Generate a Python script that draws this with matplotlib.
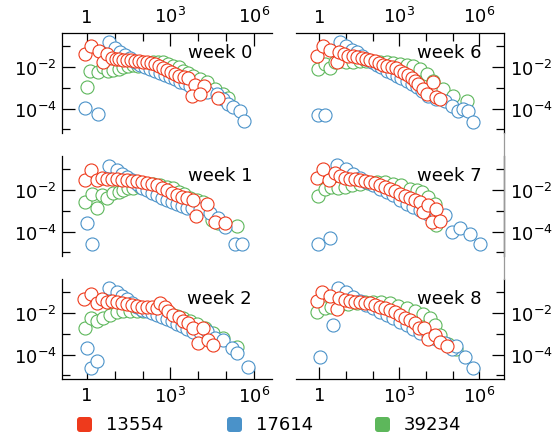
import numpy as np
import matplotlib
matplotlib.use("Agg")
import matplotlib.pyplot as plt
from matplotlib.patches import FancyBboxPatch
from matplotlib.lines import Line2D

plt.rcParams['font.family'] = ['DejaVu Sans']
plt.rcParams['mathtext.fontset'] = 'dejavusans'

# ---------------- data (log10 of x and log10 of y) ----------------
series_names = ["13554", "17614", "39234"]
series_colors = ["#EE3A1C", "#4A92C9", "#5DB75B"]
week_labels = ["week 0", "week 6", "week 1", "week 7", "week 2", "week 8"]

# week 0
w0_red_lx = [-0.06, 0.14, 0.45, 0.60, 0.74, 0.90, 1.04, 1.17, 1.31, 1.46, 1.60, 1.74, 1.89, 2.03, 2.17, 2.32, 2.46, 2.60, 2.75, 2.89, 3.03, 3.18, 3.32, 3.49, 3.63, 3.88, 4.21, 3.78, 4.06, 4.72]
w0_red_ly = [-1.37, -1.00, -1.21, -1.74, -1.37, -1.58, -1.61, -1.61, -1.64, -1.66, -1.67, -1.69, -1.71, -1.74, -1.77, -1.80, -1.87, -1.96, -2.04, -2.12, -2.22, -2.32, -2.41, -2.48, -2.51, -2.86, -2.93, -3.38, -3.30, -3.47]
w0_blue_lx = [-0.06, 0.42, 0.81, 1.02, 1.19, 1.37, 1.55, 1.73, 1.91, 2.09, 2.27, 2.45, 2.63, 2.81, 2.99, 3.17, 3.35, 3.52, 3.70, 3.94, 4.30, 4.66, 4.90, 5.08, 5.26, 5.50, 5.64]
w0_blue_ly = [-3.99, -4.26, -0.81, -1.10, -1.26, -1.42, -1.58, -1.77, -1.90, -2.01, -2.09, -2.17, -2.29, -2.38, -2.49, -2.57, -2.70, -2.76, -2.92, -3.06, -3.18, -3.30, -3.54, -3.78, -3.94, -4.10, -4.58]
w0_green_lx = [0.00, 0.12, 0.42, 0.60, 0.78, 0.96, 1.14, 1.31, 1.49, 1.67, 1.85, 2.03, 2.21, 2.39, 2.57, 2.75, 2.93, 3.11, 3.29, 3.46, 3.64, 3.82, 4.06, 4.30, 4.60, 4.90, 5.08]
w0_green_ly = [-2.98, -2.17, -2.22, -2.01, -2.17, -2.12, -2.09, -2.01, -1.93, -1.90, -1.93, -1.85, -1.80, -1.77, -1.74, -1.77, -1.85, -1.93, -2.01, -2.17, -2.29, -2.41, -2.57, -2.73, -3.06, -3.30, -3.51]

# week 6
w6_red_lx = [-0.10, 0.15, 0.42, 0.65, 0.75, 0.92, 1.09, 1.25, 1.42, 1.59, 1.75, 1.92, 2.08, 2.25, 2.40, 2.55, 2.71, 2.87, 3.02, 3.17, 3.33, 3.46, 3.58, 3.71, 3.90, 4.02, 4.27, 4.39, 4.52]
w6_red_ly = [-1.45, -0.97, -1.16, -1.77, -1.26, -1.37, -1.45, -1.48, -1.53, -1.58, -1.61, -1.66, -1.72, -1.80, -1.88, -1.93, -1.98, -2.06, -2.17, -2.29, -2.38, -2.54, -2.65, -2.82, -3.06, -3.30, -2.73, -3.46, -3.54]
w6_blue_lx = [-0.04, 0.21, 0.77, 1.02, 1.21, 1.40, 1.59, 1.77, 1.96, 2.15, 2.33, 2.52, 2.71, 2.90, 3.08, 3.27, 3.46, 3.65, 3.83, 4.08, 4.39, 4.71, 4.96, 5.21, 5.39, 5.58, 5.77]
w6_blue_ly = [-4.31, -4.31, -0.78, -0.97, -1.16, -1.29, -1.48, -1.61, -1.77, -1.90, -2.01, -2.17, -2.29, -2.41, -2.54, -2.65, -2.82, -2.98, -3.14, -3.38, -3.54, -3.62, -3.86, -4.10, -4.02, -4.10, -4.63]
w6_green_lx = [-0.04, 0.21, 0.40, 0.59, 0.77, 1.02, 1.27, 1.52, 1.77, 2.02, 2.27, 2.52, 2.77, 3.02, 3.27, 3.52, 3.77, 4.02, 4.27, 4.64, 5.02, 5.52]
w6_green_ly = [-2.09, -1.85, -2.06, -1.77, -1.69, -1.77, -1.74, -1.69, -1.69, -1.74, -1.77, -1.77, -1.80, -1.85, -1.90, -1.93, -2.09, -2.33, -2.65, -3.06, -3.38, -3.62]

# week 1
w1_red_lx = [-0.06, 0.16, 0.38, 0.54, 0.72, 0.90, 1.08, 1.25, 1.43, 1.61, 1.79, 1.97, 2.15, 2.33, 2.51, 2.69, 2.87, 3.05, 3.23, 3.41, 3.58, 3.80, 3.92, 4.30, 4.60, 4.96]
w1_red_ly = [-1.53, -1.02, -1.53, -1.41, -1.45, -1.48, -1.48, -1.49, -1.51, -1.54, -1.57, -1.61, -1.64, -1.69, -1.76, -1.88, -2.00, -2.13, -2.24, -2.32, -2.37, -2.48, -3.23, -2.69, -3.52, -3.60]
w1_blue_lx = [0.00, 0.18, 0.81, 1.08, 1.25, 1.43, 1.61, 1.79, 1.97, 2.15, 2.33, 2.51, 2.69, 2.87, 3.05, 3.23, 3.41, 3.58, 3.76, 4.06, 4.42, 4.72, 4.96, 5.32, 5.56]
w1_blue_ly = [-3.60, -4.60, -0.84, -1.05, -1.21, -1.37, -1.53, -1.73, -1.89, -2.00, -2.12, -2.24, -2.37, -2.48, -2.56, -2.67, -2.77, -2.85, -2.88, -2.91, -3.12, -3.36, -3.76, -4.60, -4.60]
w1_green_lx = [-0.06, 0.18, 0.38, 0.54, 0.72, 0.93, 1.14, 1.31, 1.49, 1.67, 1.91, 2.15, 2.39, 2.63, 2.87, 3.08, 3.29, 3.49, 3.70, 3.94, 4.18, 4.48, 4.72, 5.38]
w1_green_ly = [-2.56, -2.21, -2.88, -2.24, -2.40, -2.12, -2.08, -2.00, -1.92, -1.89, -1.84, -1.76, -1.73, -1.76, -1.84, -1.92, -2.08, -2.21, -2.37, -2.48, -2.59, -3.44, -3.60, -3.71]

# week 7
w7_red_lx = [-0.07, 0.15, 0.37, 0.59, 0.77, 0.96, 1.15, 1.34, 1.52, 1.71, 1.90, 2.08, 2.27, 2.46, 2.65, 2.83, 3.02, 3.21, 3.40, 3.58, 3.77, 3.90, 4.08, 4.21, 4.39, 4.52]
w7_red_ly = [-1.42, -1.00, -1.53, -1.16, -1.32, -1.42, -1.45, -1.48, -1.53, -1.56, -1.61, -1.66, -1.74, -1.85, -1.96, -2.06, -2.17, -2.28, -2.38, -2.49, -2.57, -3.05, -2.73, -3.53, -2.89, -3.50]
w7_blue_lx = [-0.04, 0.40, 0.65, 1.02, 1.27, 1.52, 1.77, 2.02, 2.27, 2.52, 2.77, 3.02, 3.27, 3.52, 3.77, 4.08, 4.39, 4.71, 4.96, 5.27, 5.64, 6.02]
w7_blue_ly = [-4.62, -4.30, -0.81, -1.00, -1.21, -1.42, -1.61, -1.77, -1.93, -2.09, -2.25, -2.49, -2.65, -2.81, -2.97, -3.13, -3.29, -3.18, -4.01, -3.85, -4.14, -4.62]
w7_green_lx = [-0.04, 0.21, 0.46, 0.71, 0.96, 1.21, 1.52, 1.84, 2.15, 2.46, 2.77, 3.08, 3.40, 3.65, 3.83, 4.08, 4.33, 4.39]
w7_green_ly = [-2.28, -1.93, -1.85, -1.90, -1.85, -1.77, -1.69, -1.64, -1.61, -1.61, -1.69, -1.77, -1.93, -2.01, -2.09, -2.33, -2.65, -3.69]

# week 2
w2_red_lx = [-0.10, 0.14, 0.38, 0.54, 0.72, 0.90, 1.08, 1.25, 1.43, 1.61, 1.79, 1.97, 2.15, 2.33, 2.51, 2.63, 2.81, 2.93, 3.11, 3.29, 3.46, 3.64, 3.82, 4.00, 4.18, 4.36, 4.54]
w2_red_ly = [-1.32, -1.10, -1.53, -1.32, -1.45, -1.41, -1.45, -1.53, -1.57, -1.61, -1.64, -1.69, -1.69, -1.73, -1.76, -1.53, -1.69, -1.92, -2.08, -2.21, -2.37, -2.48, -2.72, -3.44, -2.72, -3.28, -3.55]
w2_blue_lx = [0.00, 0.14, 0.38, 0.81, 1.08, 1.25, 1.43, 1.61, 1.79, 1.97, 2.15, 2.33, 2.51, 2.69, 2.87, 3.05, 3.23, 3.41, 3.58, 3.82, 4.06, 4.30, 4.60, 4.90, 5.20, 5.38, 5.79]
w2_blue_ly = [-3.68, -4.63, -4.31, -0.81, -1.00, -1.16, -1.32, -1.53, -1.69, -1.84, -1.92, -2.00, -2.08, -2.21, -2.27, -2.40, -2.53, -2.64, -2.75, -2.91, -2.91, -2.85, -3.20, -3.28, -3.68, -3.92, -4.60]
w2_green_lx = [-0.06, 0.14, 0.38, 0.60, 0.84, 1.08, 1.31, 1.55, 1.79, 2.03, 2.27, 2.51, 2.75, 2.99, 3.23, 3.46, 3.70, 3.94, 4.24, 4.54, 4.90, 5.38]
w2_green_ly = [-2.72, -2.24, -2.40, -2.24, -2.08, -1.96, -1.92, -1.89, -1.92, -1.89, -1.89, -1.89, -1.92, -2.00, -2.12, -2.24, -2.37, -2.53, -2.72, -2.96, -3.20, -3.65]

# week 8
w8_red_lx = [-0.10, 0.12, 0.40, 0.65, 0.75, 0.96, 1.15, 1.34, 1.52, 1.71, 1.90, 2.08, 2.27, 2.46, 2.65, 2.83, 3.02, 3.21, 3.40, 3.58, 3.75, 3.92, 4.08, 4.33, 4.52, 4.77]
w8_red_ly = [-1.42, -1.00, -1.16, -1.81, -1.26, -1.37, -1.42, -1.45, -1.48, -1.50, -1.53, -1.61, -1.69, -1.77, -1.85, -1.97, -2.10, -2.23, -2.34, -2.50, -2.71, -2.74, -3.23, -3.06, -3.39, -3.58]
w8_blue_lx = [0.02, 0.52, 0.71, 1.02, 1.27, 1.52, 1.77, 2.02, 2.27, 2.52, 2.77, 3.02, 3.27, 3.52, 3.77, 4.08, 4.39, 4.71, 4.96, 5.14, 5.46, 5.77]
w8_blue_ly = [-4.11, -2.58, -0.81, -0.97, -1.21, -1.42, -1.61, -1.77, -1.94, -2.10, -2.26, -2.42, -2.58, -2.77, -2.94, -3.06, -3.23, -3.42, -3.71, -3.58, -4.11, -4.65]
w8_green_lx = [-0.07, 0.21, 0.46, 0.77, 1.09, 1.40, 1.71, 2.02, 2.33, 2.65, 2.96, 3.27, 3.58, 3.90, 4.14, 4.33, 4.52, 4.83, 5.14]
w8_green_ly = [-1.94, -1.74, -1.69, -1.61, -1.58, -1.53, -1.48, -1.45, -1.48, -1.53, -1.65, -1.77, -1.90, -2.02, -2.26, -2.58, -3.06, -3.47, -3.71]

x_major_ticks = [1, 1e3, 1e6]
x_major_labels = ["1", "$10^3$", "$10^6$"]
x_minor_ticks = [10, 100, 1e4, 1e5]
y_major_ticks = [1e-2, 1e-4]
y_major_labels = ["$10^{-2}$", "$10^{-4}$"]
y_minor_ticks = [1e-1, 1e-3, 1e-5]

panels = [
    (w0_red_lx, w0_red_ly, w0_blue_lx, w0_blue_ly, w0_green_lx, w0_green_ly),
    (w6_red_lx, w6_red_ly, w6_blue_lx, w6_blue_ly, w6_green_lx, w6_green_ly),
    (w1_red_lx, w1_red_ly, w1_blue_lx, w1_blue_ly, w1_green_lx, w1_green_ly),
    (w7_red_lx, w7_red_ly, w7_blue_lx, w7_blue_ly, w7_green_lx, w7_green_ly),
    (w2_red_lx, w2_red_ly, w2_blue_lx, w2_blue_ly, w2_green_lx, w2_green_ly),
    (w8_red_lx, w8_red_ly, w8_blue_lx, w8_blue_ly, w8_green_lx, w8_green_ly),
]

# ---------------- layout ----------------
W, H = 558, 435
fig = plt.figure(figsize=(W / 100, H / 100), dpi=100)

col_left = [62.3, 295.7]
col_width = [209.4, 208.6]
row_top = [34.3, 157.3, 280.3]
row_h = 99.7
xlims = [(10 ** -0.875, 10 ** 6.63), (10 ** -0.88, 10 ** 6.93)]
ylim = (10 ** -5.18, 10 ** -0.37)
FS = 13
text_x = [0.906, 0.893]

for idx, pdata in enumerate(panels):
    r, c = divmod(idx, 2)
    ax = fig.add_axes([col_left[c] / W, 1 - (row_top[r] + row_h) / H,
                       col_width[c] / W, row_h / H])
    ax.set_xscale('log')
    ax.set_yscale('log')
    rx, ry, bx, by, gx, gy = pdata
    for (lx, ly, col) in [(gx, gy, series_colors[2]), (bx, by, series_colors[1]),
                          (rx, ry, series_colors[0])]:
        ax.plot(10 ** np.array(lx), 10 ** np.array(ly), 'o', ls='none',
                mfc='white', mec=col, ms=9.4, mew=0.8, clip_on=False)
    ax.set_xlim(*xlims[c])
    ax.set_ylim(*ylim)
    for s in ax.spines.values():
        s.set_visible(False)
        s.set_linewidth(0.9)
    ax.set_xticks(x_major_ticks)
    ax.set_xticks(x_minor_ticks, minor=True)
    ax.set_yticks(y_major_ticks)
    ax.set_yticks(y_minor_ticks, minor=True)
    ax.xaxis.set_minor_formatter(plt.NullFormatter())
    ax.yaxis.set_minor_formatter(plt.NullFormatter())
    if r == 0:
        ax.spines['top'].set_visible(True)
        ax.xaxis.set_ticks_position('top')
        ax.set_xticklabels(x_major_labels)
        ax.tick_params(axis='x', which='both', top=True, bottom=False,
                       labeltop=True, labelbottom=False, pad=5)
    elif r == 2:
        ax.spines['bottom'].set_visible(True)
        ax.set_xticklabels(x_major_labels)
        ax.tick_params(axis='x', which='both', top=False, bottom=True,
                       labeltop=False, labelbottom=True, pad=5)
    else:
        ax.tick_params(axis='x', which='both', top=False, bottom=False,
                       labeltop=False, labelbottom=False)
    ax.set_yticklabels(y_major_labels)
    if c == 0:
        ax.spines['left'].set_visible(True)
        ax.tick_params(axis='y', which='both', left=True, right=False,
                       labelleft=True, labelright=False, pad=4)
    else:
        ax.spines['right'].set_visible(True)
        ax.tick_params(axis='y', which='both', left=False, right=True,
                       labelleft=False, labelright=True, pad=4)
    ax.tick_params(which='major', direction='in', length=9, width=0.9,
                   labelsize=FS, colors='black')
    ax.tick_params(which='minor', direction='in', length=5.5, width=0.9)
    ax.patch.set_alpha(0)
    ax.text(text_x[c], 0.815, week_labels[idx], transform=ax.transAxes,
            ha='right', va='center', fontsize=FS)

# thin connector along right column spine
fig.add_artist(Line2D([504.3 / W, 504.3 / W], [1 - 134 / H, 1 - 280.3 / H],
                      color='#9a9a9a', lw=0.9))

# ---------------- legend ----------------
sq_cx = [84.5, 234.5, 382.5]
sq = 15
rnd = 3
ly = 425.5
for name, col, cx in zip(series_names, series_colors, sq_cx):
    box = FancyBboxPatch((cx - sq / 2 + rnd, H - ly - sq / 2 + rnd),
                         sq - 2 * rnd, sq - 2 * rnd,
                         boxstyle="round,pad=%g,rounding_size=%g" % (rnd, rnd),
                         transform=None, fc=col, ec='none')
    fig.add_artist(box)
    fig.text((cx + sq / 2 + 14) / W, 1 - ly / H, name, ha='left', va='center',
             fontsize=FS)

fig.savefig("out.png", dpi=100)
